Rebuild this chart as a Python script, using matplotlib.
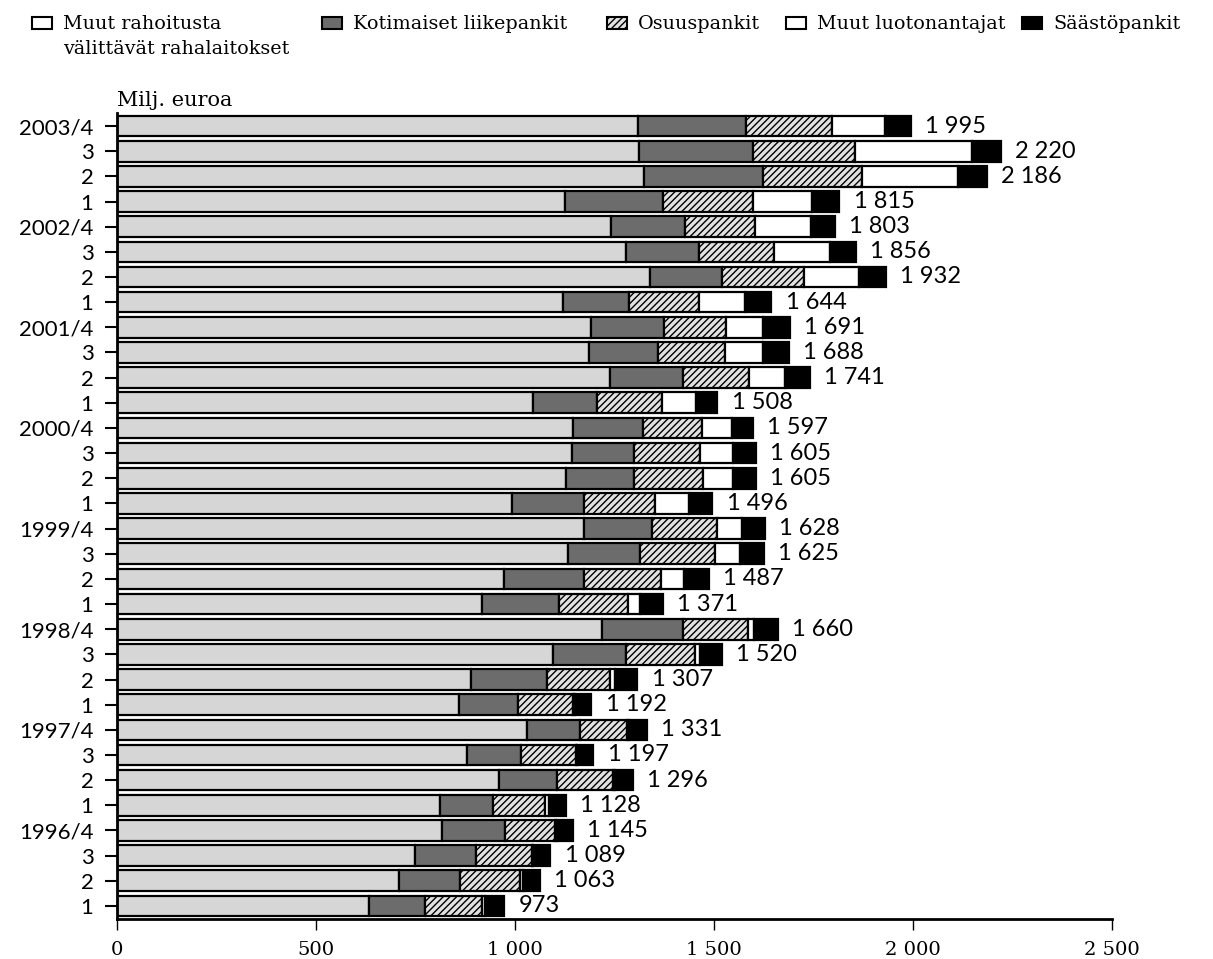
import matplotlib
matplotlib.use("Agg")
import matplotlib.pyplot as plt
from matplotlib.patches import Rectangle
import numpy as np

# quarters from 1996/1 (bottom) to 2003/4 (top)
years = ["1996", "1997", "1998", "1999", "2000", "2001", "2002", "2003"]
quarters = [y + "/" + str(q) for y in years for q in range(1, 5)]

muut_rahalaitokset = [633, 709, 749, 817, 812, 960, 879, 1029,
                      860, 889, 1096, 1219, 916, 973, 1134, 1172,
                      992, 1128, 1142, 1145, 1044, 1239, 1187, 1190,
                      1121, 1338, 1278, 1241, 1126, 1323, 1311, 1308]
liikepankit = [141, 153, 153, 158, 133, 145, 135, 133,
               147, 191, 183, 202, 195, 199, 180, 171,
               180, 172, 158, 176, 161, 184, 171, 183,
               166, 183, 184, 186, 246, 301, 288, 273]
osuuspankit = [142, 151, 140, 126, 130, 140, 139, 120,
               139, 159, 173, 165, 174, 194, 189, 164,
               180, 172, 165, 148, 164, 166, 170, 157,
               174, 204, 188, 176, 227, 248, 255, 216]
muut_luotonantajat = [9, 6, 4, 5, 11, 5, 3, 5,
                      5, 12, 13, 15, 29, 59, 61, 63,
                      86, 76, 83, 75, 86, 89, 96, 94,
                      117, 139, 142, 140, 148, 240, 293, 132]
saastopankit = [48, 44, 43, 39, 42, 46, 41, 44,
                41, 56, 55, 59, 57, 62, 61, 58,
                58, 57, 57, 53, 53, 63, 64, 67,
                66, 68, 64, 60, 68, 74, 73, 66]
totals = [973, 1063, 1089, 1145, 1128, 1296, 1197, 1331,
          1192, 1307, 1520, 1660, 1371, 1487, 1625, 1628,
          1496, 1605, 1605, 1597, 1508, 1741, 1688, 1691,
          1644, 1932, 1856, 1803, 1815, 2186, 2220, 1995]

# name, values, bar colour, legend box colour, hatch
series = [
    ("Muut rahoitusta\nvälittävät rahalaitokset", muut_rahalaitokset, "#d6d6d6", "#ffffff", None),
    ("Kotimaiset liikepankit", liikepankit, "#6c6c6c", "#6c6c6c", None),
    ("Osuuspankit", osuuspankit, "#e2e2e2", "#e2e2e2", "/////"),
    ("Muut luotonantajat", muut_luotonantajat, "#ffffff", "#ffffff", None),
    ("Säästöpankit", saastopankit, "#000000", "#000000", None),
]

SERIF = ["DejaVu Serif"]
SANS = ["Lato", "DejaVu Sans"]

plt.rcParams["hatch.linewidth"] = 1.0

fig = plt.figure(figsize=(12.13, 9.59), dpi=100)
ax = fig.add_axes([0.0965, 0.0417, 0.8203, 0.8400])

y = np.arange(len(quarters))
left = np.zeros(len(quarters))
for name, vals, color, lcolor, hatch in series:
    ax.barh(y, vals, left=left, height=0.82, color=color, hatch=hatch,
            edgecolor="black", linewidth=1.6)
    left = left + np.array(vals)

for yi, tot in zip(y, totals):
    txt = "{:,}".format(tot).replace(",", " ")
    ax.text(left[yi] + 36, yi, txt, va="center", ha="left",
            fontsize=17, family=SANS)

ylabels = []
for q in quarters:
    yr, qq = q.split("/")
    ylabels.append(q if qq == "4" else qq)
ax.set_yticks(y)
ax.set_yticklabels(ylabels, fontsize=16, family=SANS)
ax.set_ylim(-0.52, 31.5)

ax.set_xlim(0, 2500)
xt = [0, 500, 1000, 1500, 2000, 2500]
ax.set_xticks(xt)
ax.set_xticklabels(["{:,}".format(v).replace(",", " ") for v in xt],
                   fontsize=14, family=SERIF)

ax.spines["top"].set_visible(False)
ax.spines["right"].set_visible(False)
ax.spines["left"].set_linewidth(2)
ax.spines["bottom"].set_linewidth(2)
ax.tick_params(axis="y", length=9, width=1.5, pad=8)
ax.tick_params(axis="x", length=8, width=1.0, pad=8)

fig.text(117 / 1213, 1 - 100 / 959, "Milj. euroa", fontsize=15,
         family=SERIF, va="center", ha="left")

# legend across the top
leg_x = [32, 322, 607, 786, 1022]
for (name, vals, color, lcolor, hatch), lx in zip(series, leg_x):
    fig.patches.append(Rectangle((lx / 1213, 1 - 29 / 959), 20 / 1213, 12 / 959,
                                 transform=fig.transFigure, facecolor=lcolor,
                                 hatch=hatch, edgecolor="black", linewidth=1.5))
    for k, line in enumerate(name.split("\n")):
        fig.text((lx + 31) / 1213, 1 - (24 + 25 * k) / 959, line,
                 fontsize=13.8, family=SERIF, va="center", ha="left")

fig.savefig("out.png", dpi=100)
